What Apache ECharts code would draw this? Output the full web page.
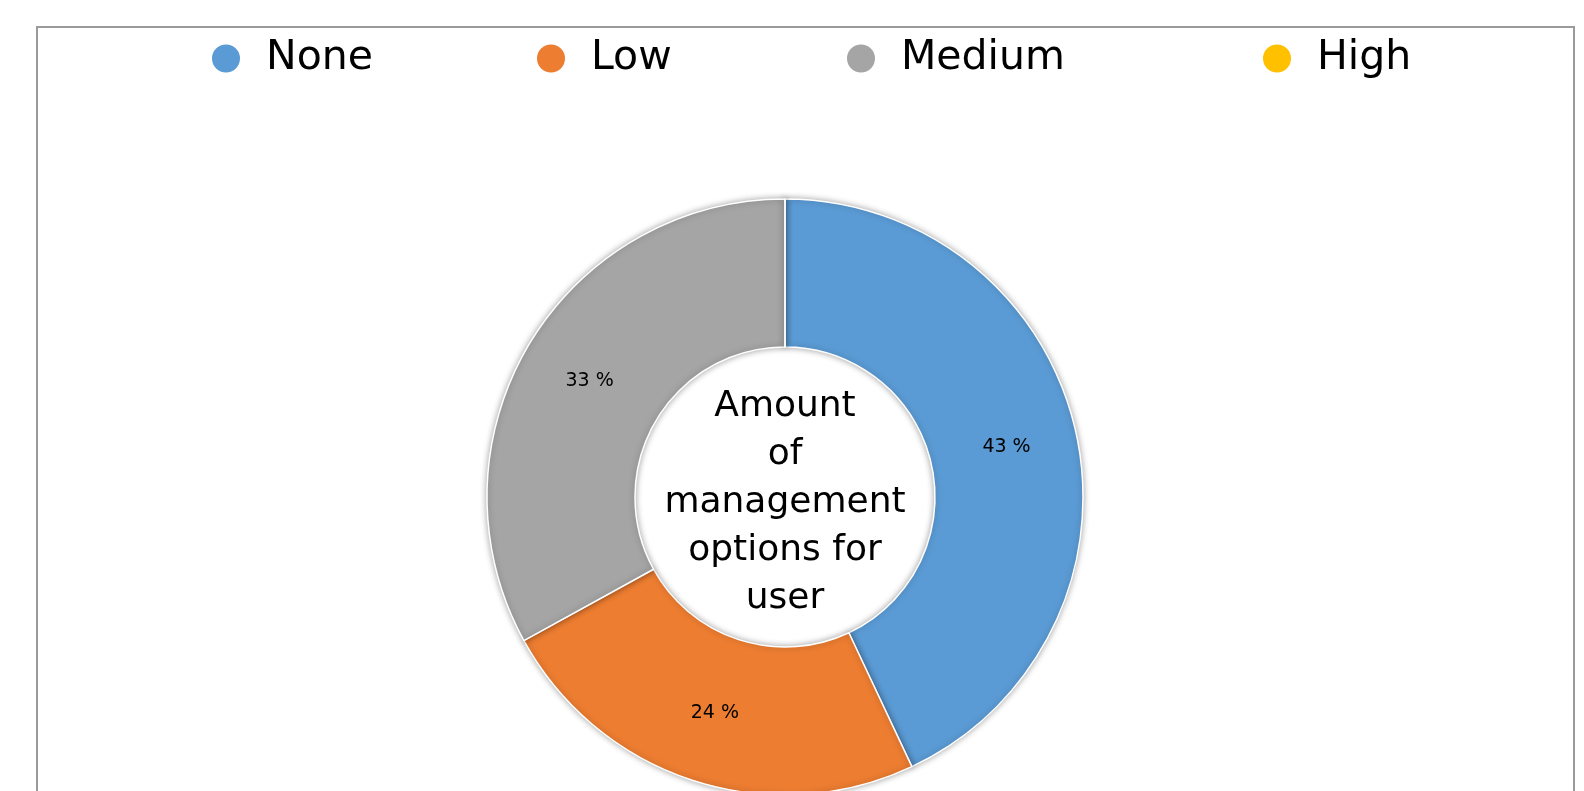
<!DOCTYPE html>
<html>
<head>
<meta charset="utf-8">
<script src="https://cdn.jsdelivr.net/npm/echarts@6/dist/echarts.min.js"></script>
<style>
  html, body { margin: 0; padding: 0; background: #fff; }
  #myChart { width: 1584px; height: 791px; }
</style>
</head>
<body>
<div id="myChart"></div>
<script>
  // 数据
  var categories = ['None', 'Low', 'Medium', 'High'];
  var shares = [43, 24, 33, 0];
  var colors = ['#5B9BD5', '#ED7D31', '#A5A5A5', '#FFC000'];
  var centerLabel = 'Amount\nof\nmanagement\noptions for\nuser';
  var legendLeft = [205, 530, 840, 1256];

  var font = 'DejaVu Sans';

  var legends = categories.map(function (name, i) {
    return {
      data: [name],
      left: legendLeft[i],
      top: 33,
      icon: 'circle',
      itemWidth: 30,
      itemHeight: 30,
      itemGap: 0,
      textStyle: { fontFamily: font, fontSize: 41, color: '#000', padding: [0, 0, 0, 20] },
      selectedMode: false
    };
  });

  var option = {
    backgroundColor: '#fff',
    animation: false,
    color: colors,
    legend: legends,
    graphic: [{
      type: 'rect',
      shape: { x: 37, y: 27, width: 1537, height: 820 },
      style: { fill: 'none', stroke: '#9a9a9a', lineWidth: 2 },
      silent: true
    }, {
      type: 'text',
      x: 785,
      y: 503,
      z: 100,
      style: {
        text: centerLabel,
        fontFamily: font,
        fontSize: 36,
        lineHeight: 48,
        fill: '#000',
        align: 'center',
        verticalAlign: 'middle'
      }
    }],
    series: [{
      type: 'pie',
      center: [785, 497],
      radius: [150, 298],
      startAngle: 90,
      clockwise: true,
      avoidLabelOverlap: false,
      itemStyle: {
        borderColor: '#fff',
        borderWidth: 1.5,
        shadowBlur: 6,
        shadowColor: 'rgba(0,0,0,0.35)'
      },
      label: {
        show: true,
        position: 'inside',
        fontFamily: font,
        fontSize: 19,
        color: '#000',
        formatter: function (p) { return p.value ? p.value + ' %' : ''; }
      },
      labelLine: { show: false },
      emphasis: { disabled: true },
      data: categories.map(function (name, i) {
        return { name: name, value: shares[i] };
      })
    }]
  };

  var myChart = echarts.init(document.getElementById('myChart'));
  myChart.setOption(option);
</script>
</body>
</html>
